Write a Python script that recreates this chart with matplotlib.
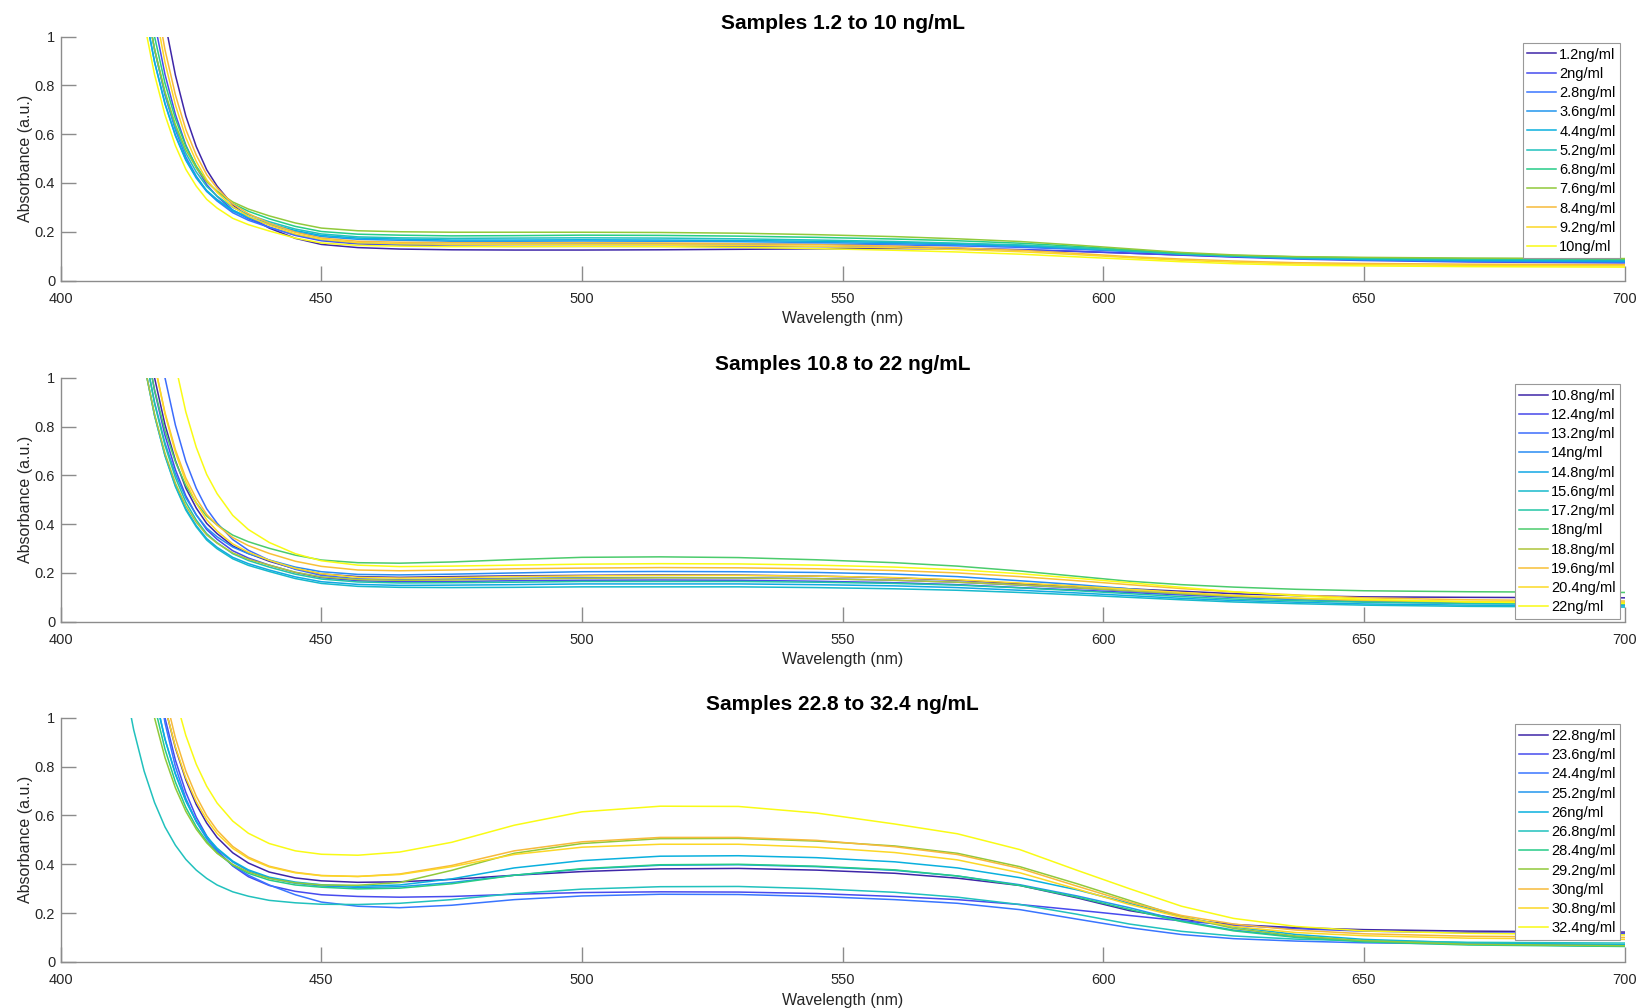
import matplotlib
matplotlib.use("Agg")
import matplotlib.pyplot as plt
from matplotlib.colors import LinearSegmentedColormap

plt.rcParams['font.family'] = ['Liberation Sans', 'DejaVu Sans']

# ---------------- data ----------------
wavelength = [410, 412, 414, 416, 418, 420, 422, 424, 426, 428, 430, 433, 436, 440, 445, 450,
              457, 465, 475, 487, 500, 515, 530, 545, 560, 572, 584, 595, 605, 615, 625, 637,
              650, 670, 700]

titles = ["Samples 1.2 to 10 ng/mL", "Samples 10.8 to 22 ng/mL", "Samples 22.8 to 32.4 ng/mL"]

labels1 = ["1.2ng/ml", "2ng/ml", "2.8ng/ml", "3.6ng/ml", "4.4ng/ml", "5.2ng/ml",
           "6.8ng/ml", "7.6ng/ml", "8.4ng/ml", "9.2ng/ml", "10ng/ml"]
abs1 = [
    [3.678, 2.846, 2.208, 1.718, 1.347, 1.060, 0.842, 0.674, 0.549, 0.454, 0.387, 0.310, 0.261, 0.215, 0.173, 0.148,
     0.135, 0.129, 0.126, 0.125, 0.125, 0.126, 0.128, 0.130, 0.131, 0.130, 0.126, 0.119, 0.112, 0.105, 0.098, 0.091,
     0.085, 0.082, 0.080],
    [2.804, 2.180, 1.701, 1.339, 1.059, 0.845, 0.681, 0.555, 0.464, 0.393, 0.345, 0.289, 0.253, 0.219, 0.185, 0.163,
     0.150, 0.145, 0.141, 0.140, 0.140, 0.140, 0.140, 0.139, 0.136, 0.132, 0.127, 0.120, 0.112, 0.104, 0.096, 0.088,
     0.082, 0.076, 0.072],
    [2.460, 1.918, 1.506, 1.188, 0.946, 0.759, 0.617, 0.507, 0.428, 0.367, 0.326, 0.278, 0.247, 0.218, 0.187, 0.166,
     0.154, 0.150, 0.148, 0.149, 0.150, 0.150, 0.150, 0.149, 0.146, 0.142, 0.136, 0.128, 0.119, 0.110, 0.101, 0.093,
     0.085, 0.079, 0.075],
    [2.286, 1.793, 1.411, 1.119, 0.896, 0.724, 0.593, 0.493, 0.420, 0.365, 0.328, 0.284, 0.256, 0.229, 0.200, 0.180,
     0.169, 0.165, 0.161, 0.161, 0.162, 0.161, 0.159, 0.156, 0.151, 0.147, 0.140, 0.130, 0.120, 0.110, 0.100, 0.090,
     0.085, 0.081, 0.078],
    [2.278, 1.789, 1.408, 1.119, 0.896, 0.726, 0.596, 0.496, 0.424, 0.369, 0.332, 0.288, 0.261, 0.234, 0.205, 0.185,
     0.174, 0.170, 0.166, 0.166, 0.167, 0.166, 0.164, 0.161, 0.156, 0.151, 0.144, 0.134, 0.122, 0.110, 0.100, 0.092,
     0.087, 0.083, 0.080],
    [2.417, 1.891, 1.491, 1.182, 0.947, 0.767, 0.628, 0.522, 0.445, 0.386, 0.346, 0.300, 0.270, 0.241, 0.211, 0.191,
     0.179, 0.175, 0.173, 0.174, 0.175, 0.174, 0.171, 0.166, 0.160, 0.153, 0.146, 0.134, 0.122, 0.108, 0.100, 0.094,
     0.090, 0.087, 0.085],
    [2.557, 2.002, 1.579, 1.249, 1.000, 0.809, 0.663, 0.551, 0.469, 0.407, 0.365, 0.315, 0.284, 0.253, 0.222, 0.201,
     0.190, 0.186, 0.183, 0.184, 0.186, 0.185, 0.182, 0.177, 0.170, 0.163, 0.153, 0.140, 0.126, 0.112, 0.103, 0.097,
     0.093, 0.090, 0.088],
    [2.374, 1.864, 1.476, 1.177, 0.949, 0.774, 0.639, 0.536, 0.462, 0.405, 0.366, 0.322, 0.293, 0.265, 0.236, 0.215,
     0.204, 0.200, 0.198, 0.198, 0.198, 0.197, 0.194, 0.188, 0.180, 0.171, 0.160, 0.145, 0.130, 0.115, 0.105, 0.098,
     0.095, 0.092, 0.090],
    [3.155, 2.452, 1.913, 1.503, 1.187, 0.946, 0.761, 0.619, 0.514, 0.434, 0.379, 0.314, 0.274, 0.235, 0.198, 0.174,
     0.161, 0.157, 0.155, 0.155, 0.155, 0.154, 0.151, 0.147, 0.141, 0.134, 0.124, 0.111, 0.098, 0.088, 0.080, 0.073,
     0.070, 0.067, 0.065],
    [2.972, 2.309, 1.808, 1.418, 1.122, 0.894, 0.720, 0.586, 0.488, 0.413, 0.361, 0.302, 0.263, 0.227, 0.191, 0.169,
     0.155, 0.151, 0.148, 0.148, 0.148, 0.147, 0.144, 0.140, 0.134, 0.127, 0.118, 0.106, 0.094, 0.083, 0.075, 0.068,
     0.065, 0.062, 0.060],
    [2.187, 1.705, 1.341, 1.059, 0.844, 0.679, 0.553, 0.456, 0.387, 0.333, 0.297, 0.255, 0.229, 0.203, 0.174, 0.154,
     0.144, 0.141, 0.139, 0.139, 0.140, 0.139, 0.136, 0.131, 0.124, 0.117, 0.108, 0.097, 0.087, 0.077, 0.069, 0.063,
     0.060, 0.057, 0.055],
]

labels2 = ["10.8ng/ml", "12.4ng/ml", "13.2ng/ml", "14ng/ml", "14.8ng/ml", "15.6ng/ml",
           "17.2ng/ml", "18ng/ml", "18.8ng/ml", "19.6ng/ml", "20.4ng/ml", "22ng/ml"]
abs2 = [
    [2.566, 2.009, 1.582, 1.251, 1.000, 0.808, 0.661, 0.548, 0.466, 0.403, 0.361, 0.311, 0.280, 0.248, 0.217, 0.196,
     0.185, 0.182, 0.185, 0.188, 0.190, 0.192, 0.191, 0.187, 0.180, 0.170, 0.156, 0.145, 0.135, 0.125, 0.115, 0.107,
     0.102, 0.100, 0.098],
    [2.435, 1.902, 1.497, 1.185, 0.947, 0.764, 0.623, 0.516, 0.438, 0.378, 0.338, 0.291, 0.261, 0.232, 0.202, 0.181,
     0.168, 0.164, 0.165, 0.168, 0.170, 0.171, 0.170, 0.166, 0.160, 0.152, 0.140, 0.130, 0.120, 0.110, 0.100, 0.092,
     0.086, 0.081, 0.078],
    [3.316, 2.585, 2.021, 1.589, 1.254, 1.000, 0.806, 0.657, 0.547, 0.463, 0.404, 0.337, 0.293, 0.252, 0.215, 0.190,
     0.176, 0.172, 0.175, 0.178, 0.180, 0.181, 0.180, 0.177, 0.170, 0.162, 0.150, 0.138, 0.125, 0.113, 0.102, 0.093,
     0.085, 0.079, 0.075],
    [2.247, 1.770, 1.399, 1.116, 0.899, 0.733, 0.606, 0.508, 0.438, 0.384, 0.348, 0.306, 0.279, 0.253, 0.224, 0.205,
     0.194, 0.192, 0.195, 0.200, 0.205, 0.206, 0.205, 0.202, 0.195, 0.185, 0.168, 0.152, 0.135, 0.117, 0.103, 0.092,
     0.082, 0.075, 0.070],
    [2.173, 1.697, 1.337, 1.059, 0.846, 0.683, 0.558, 0.463, 0.394, 0.341, 0.305, 0.264, 0.238, 0.212, 0.184, 0.164,
     0.153, 0.149, 0.150, 0.152, 0.155, 0.155, 0.155, 0.152, 0.147, 0.140, 0.129, 0.118, 0.107, 0.096, 0.087, 0.080,
     0.073, 0.068, 0.065],
    [2.183, 1.703, 1.339, 1.059, 0.845, 0.680, 0.554, 0.458, 0.389, 0.335, 0.299, 0.258, 0.231, 0.206, 0.177, 0.157,
     0.145, 0.141, 0.140, 0.141, 0.143, 0.143, 0.143, 0.140, 0.135, 0.129, 0.120, 0.110, 0.100, 0.090, 0.081, 0.074,
     0.068, 0.063, 0.060],
    [2.294, 1.798, 1.413, 1.120, 0.895, 0.723, 0.591, 0.490, 0.417, 0.361, 0.324, 0.279, 0.251, 0.224, 0.195, 0.175,
     0.163, 0.159, 0.160, 0.162, 0.165, 0.165, 0.165, 0.162, 0.157, 0.150, 0.139, 0.127, 0.115, 0.103, 0.093, 0.086,
     0.080, 0.075, 0.072],
    [2.309, 1.823, 1.453, 1.168, 0.951, 0.784, 0.656, 0.558, 0.487, 0.433, 0.397, 0.355, 0.328, 0.301, 0.273, 0.253,
     0.242, 0.240, 0.245, 0.255, 0.264, 0.266, 0.263, 0.254, 0.242, 0.228, 0.208, 0.186, 0.166, 0.152, 0.142, 0.133,
     0.127, 0.123, 0.120],
    [2.145, 1.681, 1.329, 1.057, 0.850, 0.690, 0.568, 0.475, 0.408, 0.356, 0.322, 0.282, 0.256, 0.232, 0.203, 0.184,
     0.173, 0.170, 0.171, 0.175, 0.178, 0.180, 0.179, 0.176, 0.170, 0.162, 0.151, 0.139, 0.127, 0.115, 0.104, 0.095,
     0.087, 0.081, 0.078],
    [2.667, 2.090, 1.648, 1.313, 1.055, 0.857, 0.705, 0.589, 0.505, 0.440, 0.396, 0.345, 0.312, 0.280, 0.248, 0.227,
     0.212, 0.209, 0.212, 0.217, 0.220, 0.222, 0.221, 0.217, 0.210, 0.200, 0.185, 0.168, 0.152, 0.136, 0.122, 0.110,
     0.098, 0.090, 0.085],
    [2.730, 2.132, 1.672, 1.325, 1.057, 0.852, 0.694, 0.574, 0.486, 0.418, 0.372, 0.319, 0.285, 0.252, 0.219, 0.197,
     0.182, 0.179, 0.181, 0.185, 0.188, 0.190, 0.190, 0.187, 0.181, 0.172, 0.159, 0.146, 0.133, 0.120, 0.108, 0.097,
     0.089, 0.083, 0.080],
    [4.325, 3.372, 2.635, 2.070, 1.636, 1.307, 1.053, 0.860, 0.715, 0.604, 0.525, 0.436, 0.378, 0.325, 0.279, 0.250,
     0.232, 0.226, 0.228, 0.232, 0.236, 0.238, 0.237, 0.232, 0.224, 0.213, 0.197, 0.178, 0.160, 0.141, 0.123, 0.107,
     0.092, 0.081, 0.075],
]

labels3 = ["22.8ng/ml", "23.6ng/ml", "24.4ng/ml", "25.2ng/ml", "26ng/ml", "26.8ng/ml",
           "28.4ng/ml", "29.2ng/ml", "30ng/ml", "30.8ng/ml", "32.4ng/ml"]
abs3 = [
    [3.087, 2.439, 1.941, 1.559, 1.270, 1.047, 0.877, 0.746, 0.645, 0.569, 0.510, 0.447, 0.405, 0.368, 0.344, 0.332,
     0.326, 0.328, 0.338, 0.355, 0.370, 0.381, 0.383, 0.376, 0.363, 0.343, 0.313, 0.262, 0.210, 0.175, 0.153, 0.140,
     0.132, 0.126, 0.122],
    [3.059, 2.410, 1.908, 1.524, 1.226, 1.000, 0.827, 0.695, 0.593, 0.516, 0.457, 0.393, 0.349, 0.313, 0.289, 0.275,
     0.268, 0.265, 0.268, 0.277, 0.284, 0.287, 0.286, 0.280, 0.268, 0.255, 0.235, 0.212, 0.190, 0.168, 0.150, 0.136,
     0.126, 0.119, 0.115],
    [3.30, 2.60, 2.05, 1.62, 1.25, 0.98, 0.80, 0.67, 0.575, 0.505, 0.452, 0.395, 0.355, 0.315, 0.275, 0.245,
     0.228, 0.222, 0.232, 0.255, 0.270, 0.277, 0.276, 0.268, 0.255, 0.240, 0.214, 0.175, 0.140, 0.112, 0.095, 0.085,
     0.078, 0.073, 0.070],
    [2.624, 2.078, 1.665, 1.344, 1.100, 0.913, 0.769, 0.659, 0.575, 0.511, 0.462, 0.409, 0.373, 0.343, 0.322, 0.311,
     0.305, 0.308, 0.325, 0.355, 0.380, 0.396, 0.398, 0.390, 0.375, 0.352, 0.316, 0.270, 0.222, 0.168, 0.130, 0.103,
     0.085, 0.072, 0.064],
    [2.612, 2.070, 1.660, 1.342, 1.099, 0.913, 0.771, 0.662, 0.578, 0.514, 0.466, 0.413, 0.377, 0.347, 0.327, 0.316,
     0.310, 0.315, 0.340, 0.385, 0.415, 0.433, 0.435, 0.427, 0.410, 0.385, 0.345, 0.295, 0.240, 0.185, 0.143, 0.112,
     0.092, 0.078, 0.070],
    [1.458, 1.170, 0.951, 0.782, 0.653, 0.553, 0.478, 0.420, 0.376, 0.342, 0.315, 0.287, 0.269, 0.252, 0.242, 0.236,
     0.235, 0.240, 0.255, 0.280, 0.298, 0.308, 0.309, 0.300, 0.285, 0.265, 0.235, 0.195, 0.155, 0.125, 0.106, 0.093,
     0.086, 0.080, 0.077],
    [2.488, 1.973, 1.578, 1.279, 1.049, 0.872, 0.737, 0.633, 0.554, 0.494, 0.447, 0.397, 0.363, 0.335, 0.315, 0.306,
     0.299, 0.302, 0.320, 0.355, 0.382, 0.398, 0.400, 0.392, 0.377, 0.352, 0.313, 0.265, 0.215, 0.165, 0.127, 0.100,
     0.082, 0.069, 0.063],
    [2.327, 1.855, 1.493, 1.213, 1.000, 0.837, 0.713, 0.617, 0.544, 0.488, 0.445, 0.399, 0.368, 0.342, 0.324, 0.315,
     0.314, 0.325, 0.375, 0.445, 0.485, 0.505, 0.506, 0.495, 0.475, 0.445, 0.390, 0.320, 0.252, 0.185, 0.137, 0.106,
     0.087, 0.072, 0.066],
    [3.198, 2.531, 2.016, 1.627, 1.325, 1.094, 0.918, 0.782, 0.679, 0.599, 0.539, 0.473, 0.429, 0.392, 0.367, 0.354,
     0.350, 0.360, 0.395, 0.455, 0.492, 0.510, 0.510, 0.498, 0.472, 0.440, 0.383, 0.310, 0.245, 0.190, 0.155, 0.130,
     0.115, 0.105, 0.100],
    [3.020, 2.393, 1.911, 1.541, 1.261, 1.046, 0.881, 0.754, 0.657, 0.583, 0.526, 0.465, 0.424, 0.389, 0.365, 0.353,
     0.350, 0.358, 0.390, 0.440, 0.470, 0.482, 0.482, 0.470, 0.448, 0.418, 0.365, 0.298, 0.235, 0.182, 0.145, 0.120,
     0.107, 0.097, 0.092],
    [3.680, 2.915, 2.334, 1.886, 1.546, 1.283, 1.082, 0.928, 0.810, 0.720, 0.651, 0.577, 0.527, 0.485, 0.455, 0.441,
     0.437, 0.450, 0.490, 0.560, 0.615, 0.638, 0.637, 0.610, 0.565, 0.525, 0.460, 0.375, 0.300, 0.228, 0.178, 0.145,
     0.127, 0.117, 0.110],
]

panels = [(titles[0], labels1, abs1), (titles[1], labels2, abs2), (titles[2], labels3, abs3)]

xticks = [400, 450, 500, 550, 600, 650, 700]
yticks = [0, 0.2, 0.4, 0.6, 0.8, 1]
ytick_labels = ["0", "0.2", "0.4", "0.6", "0.8", "1"]

# parula-like colormap
parula_like = LinearSegmentedColormap.from_list("parula_like", [
    (0.00, (0.2422, 0.1504, 0.6603)),
    (0.10, (0.2775, 0.2956, 0.9393)),
    (0.20, (0.2250, 0.4570, 0.9990)),
    (0.30, (0.1300, 0.5900, 0.9330)),
    (0.40, (0.0400, 0.6900, 0.8700)),
    (0.50, (0.1300, 0.7550, 0.7450)),
    (0.60, (0.1500, 0.8000, 0.5300)),
    (0.70, (0.5600, 0.7900, 0.2300)),
    (0.80, (0.9700, 0.7300, 0.2300)),
    (0.90, (0.9900, 0.8400, 0.1500)),
    (1.00, (0.9769, 0.9839, 0.0805)),
])

fig = plt.figure(figsize=(16.41, 10.08), dpi=100)
bottoms = [0.7217, 0.3832, 0.0458]
axis_gray = "#8c8c8c"
text_dark = "#262626"

for (title, labels, data), bot in zip(panels, bottoms):
    ax = fig.add_axes([0.037, bot, 0.953, 0.242])
    n = len(labels)
    for i, (lab, vals) in enumerate(zip(labels, data)):
        ax.plot(wavelength, vals, color=parula_like(i / (n - 1)), lw=1.1, label=lab)
    ax.set_xlim(400, 700)
    ax.set_ylim(0, 1)
    ax.set_xticks(xticks)
    ax.set_yticks(yticks)
    ax.set_yticklabels(ytick_labels)
    for s in ["top", "right"]:
        ax.spines[s].set_visible(False)
    for s in ["left", "bottom"]:
        ax.spines[s].set_color(axis_gray)
        ax.spines[s].set_linewidth(1.0)
    ax.tick_params(direction="in", length=11, width=1.0, color=axis_gray,
                   labelsize=10.5, labelcolor=text_dark)
    ax.tick_params(axis="x", pad=8)
    ax.tick_params(axis="y", pad=4)
    ax.set_title(title, fontsize=15, fontweight="bold", color="black", pad=5.5)
    ax.set_xlabel("Wavelength (nm)", fontsize=11.5, color=text_dark, labelpad=4)
    ax.set_ylabel("Absorbance (a.u.)", fontsize=11.5, color=text_dark, labelpad=1.5)
    leg = ax.legend(loc="upper right", bbox_to_anchor=(0.999, 0.985), fontsize=10.5,
                    frameon=True, fancybox=False, framealpha=1, edgecolor="#999999",
                    borderpad=0.3, handlelength=2.0, handletextpad=0.2,
                    labelspacing=0.36, borderaxespad=0.2)
    leg.get_frame().set_linewidth(0.8)
    for t in leg.get_texts():
        t.set_color("black")

fig.savefig("out.png", dpi=100)
